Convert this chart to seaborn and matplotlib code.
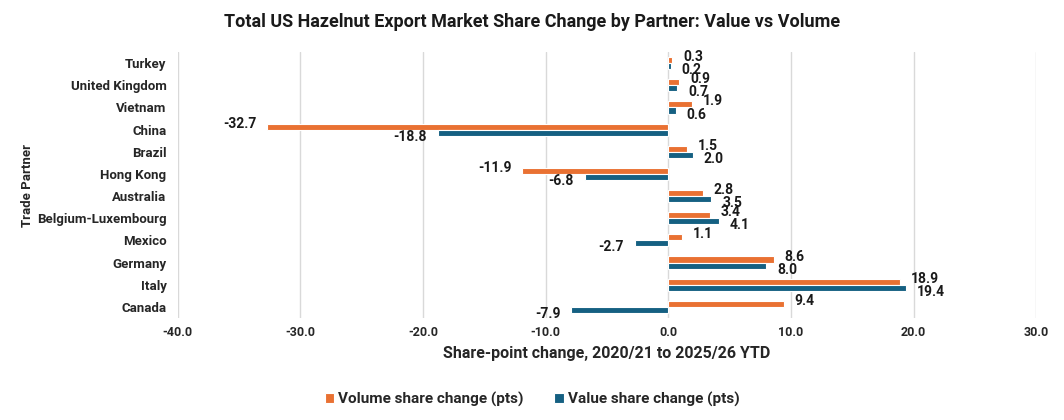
import matplotlib
matplotlib.use("Agg")
import matplotlib.pyplot as plt
import seaborn as sns
import pandas as pd
from matplotlib.transforms import offset_copy

partners = ["Turkey", "United Kingdom", "Vietnam", "China", "Brazil", "Hong Kong",
            "Australia", "Belgium-Luxembourg", "Mexico", "Germany", "Italy", "Canada"]
volume_change = [0.3, 0.9, 1.9, -32.7, 1.5, -11.9, 2.8, 3.4, 1.1, 8.6, 18.9, 9.4]
value_change = [0.2, 0.7, 0.6, -18.8, 2.0, -6.8, 3.5, 4.1, -2.7, 8.0, 19.4, -7.9]
series_names = ["Volume share change (pts)", "Value share change (pts)"]
x_ticks = [-40, -30, -20, -10, 0, 10, 20, 30]

df = pd.DataFrame({
    "Partner": partners * 2,
    "Change": volume_change + value_change,
    "Series": [series_names[0]] * len(partners) + [series_names[1]] * len(partners),
})

sns.set_theme(style="white")
plt.rcParams["font.family"] = ["Roboto", "DejaVu Sans"]
plt.rcParams["font.weight"] = "bold"

colors = ["#E97132", "#156082"]
fig = plt.figure(figsize=(10.64, 4.2), dpi=100)
ax = fig.add_axes([0.167, 0.243, 0.807, 0.633])

sns.barplot(data=df, y="Partner", x="Change", hue="Series", hue_order=series_names,
            order=partners, palette=colors, saturation=1, orient="h", width=0.55,
            edgecolor="white", linewidth=0.8, ax=ax, legend=True)

ax.set_xlim(-40, 30)
ax.set_xticks(x_ticks)
ax.set_xticklabels([f"{t:.1f}" for t in x_ticks], fontsize=9, fontweight="bold")
ax.tick_params(axis="x", length=0, pad=6)
ax.tick_params(axis="y", length=0, pad=8)
for lbl in ax.get_yticklabels():
    lbl.set_fontsize(9.5)
    lbl.set_fontweight("bold")
ax.grid(axis="x", color="#D9D9D9", linewidth=1)
ax.set_axisbelow(True)
for s in ax.spines.values():
    s.set_visible(False)

ax.set_xlabel("Share-point change, 2020/21 to 2025/26 YTD", fontsize=11.5, fontweight="bold", labelpad=5)
ax.set_ylabel("Trade Partner", fontsize=9.5, fontweight="bold", labelpad=2)

# data labels
for ci, cont in enumerate(ax.containers):
    dy = 3 if ci == 0 else -4
    for rect, v in zip(cont.patches, volume_change if ci == 0 else value_change):
        w = rect.get_width()
        yc = rect.get_y() + rect.get_height() / 2
        dx = 11 if w >= 0 else -11
        trans = offset_copy(ax.transData, fig=fig, x=dx, y=dy, units="dots")
        ax.text(w, yc, f"{v:.1f}", transform=trans, fontsize=10, fontweight="bold",
                ha="left" if w >= 0 else "right", va="center", color="#1a1a1a")

leg = ax.legend(loc="upper center", bbox_to_anchor=(0.413, -0.225), ncol=2, frameon=False,
                fontsize=11, handlelength=0.6, handleheight=0.6, columnspacing=2.0,
                handletextpad=0.3)
for t in leg.get_texts():
    t.set_fontweight("bold")

fig.suptitle("Total US Hazelnut Export Market Share Change by Partner: Value vs Volume",
             x=0.5, y=0.97, fontsize=13, fontweight="bold", color="#1a1a1a")

fig.savefig("out.png", dpi=100)
